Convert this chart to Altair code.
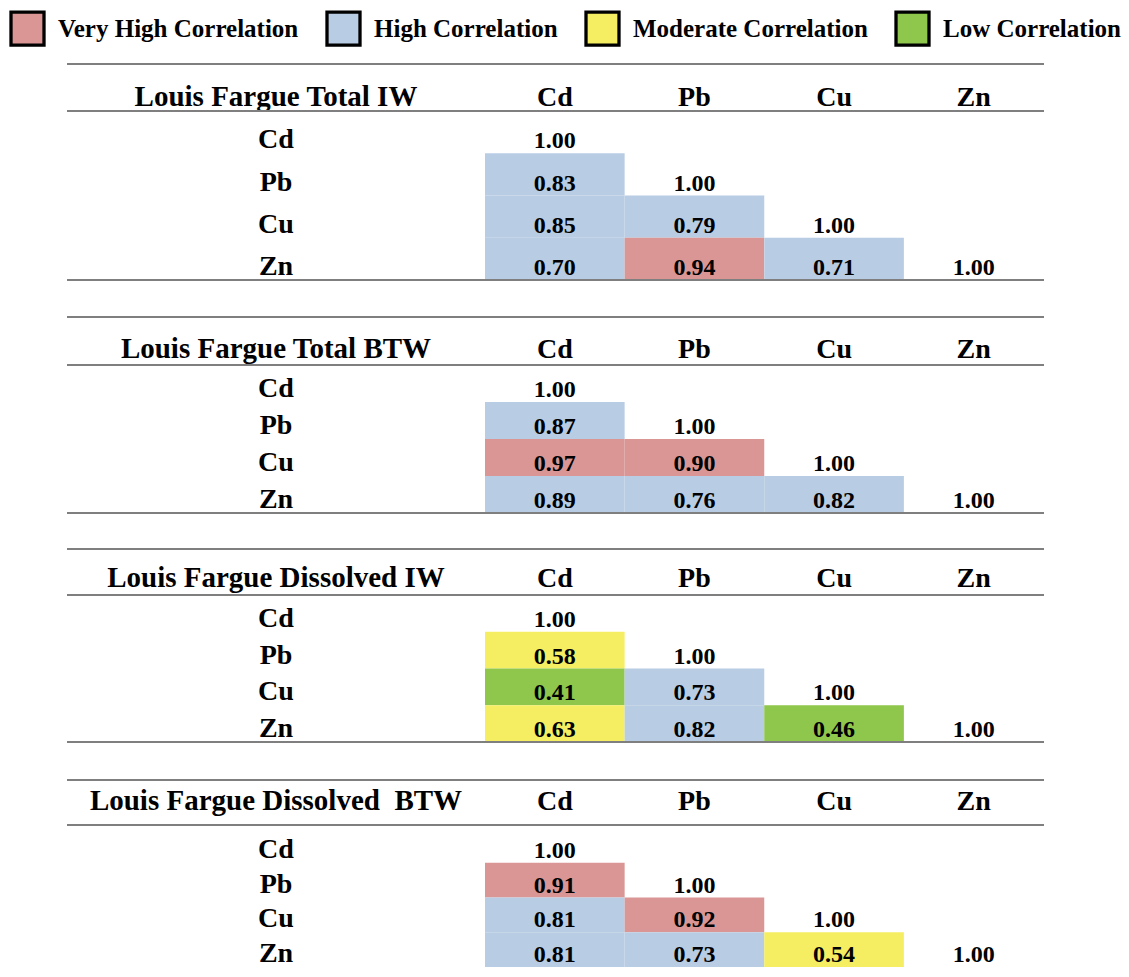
import altair as alt
import pandas as pd

# ---------------- data ----------------
metals = ["Cd", "Pb", "Cu", "Zn"]
panel_titles = [
    "Louis Fargue Total IW",
    "Louis Fargue Total BTW",
    "Louis Fargue Dissolved IW",
    "Louis Fargue Dissolved\u00a0 BTW",
]
# lower-triangle pairs (row metal, column metal)
pair_rows = ["Pb", "Cu", "Cu", "Zn", "Zn", "Zn"]
pair_cols = ["Cd", "Cd", "Pb", "Cd", "Pb", "Cu"]

total_iw = [0.83, 0.85, 0.79, 0.70, 0.94, 0.71]
total_btw = [0.87, 0.97, 0.90, 0.89, 0.76, 0.82]
dissolved_iw = [0.58, 0.41, 0.73, 0.63, 0.82, 0.46]
dissolved_btw = [0.91, 0.81, 0.92, 0.81, 0.73, 0.54]

VH, H, M, L = "Very High Correlation", "High Correlation", "Moderate Correlation", "Low Correlation"
total_iw_lvl = [H, H, H, H, VH, H]
total_btw_lvl = [H, VH, VH, H, H, H]
dissolved_iw_lvl = [M, L, H, M, H, L]
dissolved_btw_lvl = [VH, H, VH, H, H, M]

diagonal = [1.00, 1.00, 1.00, 1.00]

level_names = [VH, H, M, L]
level_colors = ["#d99694", "#b8cce4", "#f5ee63", "#8fc64c"]

panel_values = [total_iw, total_btw, dissolved_iw, dissolved_btw]
panel_levels = [total_iw_lvl, total_btw_lvl, dissolved_iw_lvl, dissolved_btw_lvl]

# ---------------- layout (pixels, per panel) ----------------
layout = [
    dict(height=309, lines=[56, 103, 272], title_base=98, rows=[103, 272]),
    dict(height=232, lines=[0, 48, 196], title_base=41, rows=[48, 196]),
    dict(height=231, lines=[0, 46, 193], title_base=38, rows=[46, 193]),
    dict(height=188, lines=[0, 45], title_base=30, rows=[48, 187]),
]
W = 1036
X_RANGE = [477, 1035.5]
LABEL_X = 268
LINE_X0 = 59
FONT = "Liberation Serif"

legend = alt.Legend(
    title=None, orient="none", legendX=1, legendY=2, direction="horizontal",
    symbolType="square", symbolSize=1089, symbolStrokeColor="black",
    symbolStrokeWidth=3.3, symbolOpacity=1, labelFont=FONT,
    labelFontWeight="bold", labelFontSize=25, labelColor="black",
    labelOffset=12, labelLimit=600, columnPadding=21, padding=0,
)
color_enc = alt.Color(
    "level:N",
    scale=alt.Scale(domain=level_names, range=level_colors),
    legend=legend,
)


def make_panel(i):
    lay = layout[i]
    cells = pd.DataFrame({
        "row": pair_rows, "col": pair_cols,
        "value": panel_values[i], "level": panel_levels[i],
    })
    diag = pd.DataFrame({"row": metals, "col": metals, "value": diagonal})
    texts = pd.concat([cells[["row", "col", "value"]], diag], ignore_index=True)

    xscale = alt.Scale(domain=metals, range=X_RANGE, paddingInner=0, paddingOuter=0)
    yscale = alt.Scale(domain=metals, range=lay["rows"], paddingInner=0, paddingOuter=0)
    x_enc = alt.X("col:N", scale=xscale, axis=None)
    y_enc = alt.Y("row:N", scale=yscale, axis=None)
    y_bot = alt.Y("row:N", scale=yscale, axis=None, bandPosition=1)

    rects = alt.Chart(cells).mark_rect().encode(x=x_enc, y=y_enc, color=color_enc)
    vals = alt.Chart(texts).mark_text(
        font=FONT, fontWeight="bold", fontSize=24, baseline="alphabetic",
        dy=-5, color="black",
    ).encode(x=x_enc, y=y_bot, text=alt.Text("value:Q", format=".2f"))
    rowlab = alt.Chart(pd.DataFrame({"row": metals})).mark_text(
        font=FONT, fontWeight="bold", fontSize=28, baseline="alphabetic",
        dy=-5, color="black",
    ).encode(x=alt.value(LABEL_X), y=y_bot, text="row:N")
    heads = alt.Chart(pd.DataFrame({"col": metals})).mark_text(
        font=FONT, fontWeight="bold", fontSize=28, baseline="alphabetic",
        color="black",
    ).encode(x=x_enc, y=alt.value(lay["title_base"]), text="col:N")
    title = alt.Chart(pd.DataFrame({"t": [panel_titles[i]]})).mark_text(
        font=FONT, fontWeight="bold", fontSize=29, baseline="alphabetic",
        color="black",
    ).encode(x=alt.value(LABEL_X), y=alt.value(lay["title_base"]), text="t:N")
    rules = [
        alt.Chart(pd.DataFrame({"k": [0]})).mark_rule(color="#7f7f7f", strokeWidth=2).encode(
            x=alt.value(LINE_X0), x2=alt.value(W), y=alt.value(v)
        )
        for v in lay["lines"]
    ]
    return alt.layer(rects, vals, rowlab, heads, title, *rules).properties(
        width=W, height=lay["height"]
    )


chart = alt.vconcat(
    *[make_panel(i) for i in range(4)], spacing=0, bounds="flush"
).resolve_scale(x="independent", y="independent").properties(
    padding=0
).configure_view(stroke=None)

chart.save("out.html", embed_options={"renderer": "svg", "actions": False})
